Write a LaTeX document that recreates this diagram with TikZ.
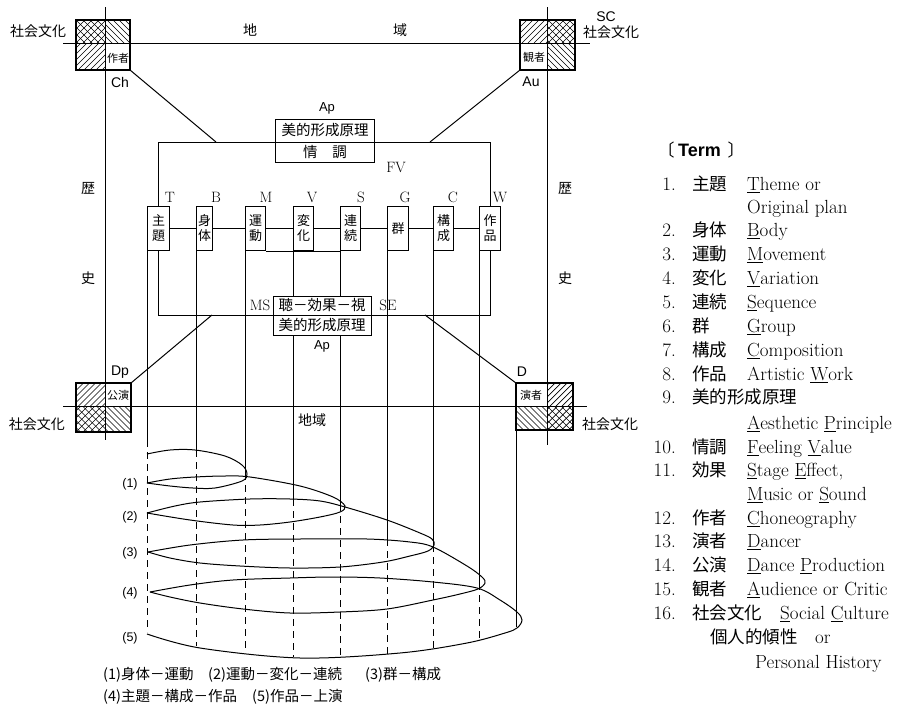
\documentclass[tikz,border=0pt]{standalone}
\usepackage{fontspec}
\newfontfamily\jpf{Noto Sans CJK JP}
\newfontfamily\hvf{Liberation Sans}
\tikzset{
  ln/.style={line width=1pt},
  dashln/.style={line width=1pt, dash pattern=on 7pt off 5pt},
  hatchln/.style={line width=0.7pt},
  sq/.style={line width=1.3pt},
  tbox/.style={draw, line width=1pt, fill=white, minimum height=44pt, inner sep=0pt, align=center, anchor=north west, font=\jpf\fontsize{13}{15}\selectfont},
  abox/.style={draw, line width=1pt, fill=white, minimum width=99pt, inner sep=0pt, font=\jpf\fontsize{14.5}{14.5}\selectfont},
  jplab/.style={inner sep=0pt, font=\jpf\fontsize{14}{14}\selectfont},
  smjp/.style={inner sep=0pt, font=\jpf\fontsize{11}{11}\selectfont},
  serl/.style={inner sep=0pt, font=\fontsize{15}{15}\selectfont},
  sanl/.style={inner sep=0pt, font=\hvf\fontsize{14}{14}\selectfont},
  numl/.style={inner sep=0pt, font=\hvf\fontsize{12.5}{12.5}\selectfont},
  legl/.style={inner sep=0pt, anchor=west, font=\jpf\fontsize{14.5}{14.5}\selectfont},
  termn/.style={anchor=base east, inner sep=0pt, font=\fontsize{19}{19}\selectfont},
  termj/.style={anchor=base west, inner sep=0pt, font=\jpf\fontsize{17.5}{17.5}\selectfont},
  terme/.style={anchor=base west, inner sep=0pt, font=\fontsize{19}{19}\selectfont}
}
\newcommand\hatchR[4]{\begin{scope}\clip (#1,#2) rectangle (#3,#4);
  \foreach \a in {-40,-34,...,40}{\draw[hatchln] ({#1+\a},#4) -- ++(60,-60);}\end{scope}}
\newcommand\hatchL[4]{\begin{scope}\clip (#1,#2) rectangle (#3,#4);
  \foreach \a in {-40,-34,...,40}{\draw[hatchln] ({#1+\a},#2) -- ++(60,60);}\end{scope}}
\newcommand\hatchX[4]{\begin{scope}\clip (#1,#2) rectangle (#3,#4);
  \foreach \a in {-42,-35,...,42}{\draw[hatchln] ({#1+\a},#4) -- ++(60,-60);
  \draw[hatchln] ({#1+\a},#2) -- ++(60,60);}\end{scope}}
\begin{document}
\begin{tikzpicture}[x=1pt,y=-1pt]
\useasboundingbox (0,0) rectangle (922,712);

% ---- corner squares
\hatchX{76}{20}{105}{43}\hatchL{105}{20}{130}{43}\hatchR{76}{43}{105}{70}
\draw[sq] (76,20) rectangle (130,70);
\hatchX{548}{20}{575}{43}\hatchR{520}{20}{548}{43}\hatchL{548}{43}{575}{70}
\draw[sq] (520,20) rectangle (575,70);
\hatchR{76}{383}{105}{406.5}\hatchX{76}{406.5}{105}{432}\hatchL{105}{406.5}{131}{432}
\draw[sq] (76,383) rectangle (131,432);
\hatchR{547.5}{383}{573}{406.5}\hatchL{516}{406.5}{547.5}{430}\hatchX{547.5}{406.5}{573}{430}
\draw[sq] (516,383) rectangle (573,430);

% ---- frame lines
\coordinate (ltop) at (105,7);   \coordinate (lbot) at (105,440);
\coordinate (rtop) at (547.5,7); \coordinate (rbot) at (547.5,445);
\coordinate (htl) at (63,43);    \coordinate (htr) at (590,43);
\coordinate (hbl) at (63,406.5); \coordinate (hbr) at (587,406.5);
\coordinate (brl) at (516,430);  \coordinate (brlb) at (516,627);
\draw[ln] (ltop) -- (lbot);
\draw[ln] (rtop) -- (rbot);
\draw[ln] (htl) -- (htr);
\draw[ln] (hbl) -- (hbr);
\draw[ln] (brl) -- (brlb);

% ---- term boxes
\node[tbox, minimum width=22pt] (t1) at (147,206) {主\\題};
\node[tbox, minimum width=16pt] (t2) at (196,206) {身\\体};
\node[tbox, minimum width=20pt] (t3) at (245,206) {運\\動};
\node[tbox, minimum width=20pt] (t4) at (293,206) {変\\化};
\node[tbox, minimum width=20pt] (t5) at (340,206) {連\\続};
\node[tbox, minimum width=21pt] (t6) at (387,206) {群};
\node[tbox, minimum width=20pt] (t7) at (433,206) {構\\成};
\node[tbox, minimum width=21pt] (t8) at (479,206) {作\\品};

\draw[ln] (t1.east) -- (t2.west);
\draw[ln] (t2.east) -- (t3.west);
\draw[ln] (t3.east) -- (t4.west);
\draw[ln] (t4.east) -- (t5.west);
\draw[ln] (t5.east) -- (t6.west);
\draw[ln] (t6.east) -- (t7.west);
\draw[ln] (t7.east) -- (t8.west);
\draw[ln] (t3.south east) -- (t5.south west);

% ---- frames round the boxes
\coordinate (ftop) at (0,142);
\coordinate (fbot) at (0,315);
\draw[ln] (t1.north) -- (t1.north |- ftop) -| (t8.north);
\draw[ln] (t1.south) -- (t1.south |- fbot) -| (t8.south);

% ---- diagonals
\coordinate (c1) at (130,70);  \coordinate (f1) at (216,142);
\coordinate (c2) at (520,70);  \coordinate (f2) at (430,142);
\coordinate (c3) at (131,383); \coordinate (f3) at (212,315);
\coordinate (c4) at (516,383); \coordinate (f4) at (425,315);
\draw[ln] (c1) -- (f1);
\draw[ln] (c2) -- (f2);
\draw[ln] (c3) -- (f3);
\draw[ln] (c4) -- (f4);

% ---- verticals from the boxes, solid then dashed
\foreach \n/\ys/\ye in {t1/440/632, t2/450/646, t3/473/653, t4/499/657, t5/504/657, t6/539/655, t7/545/649, t8/583/640}{
  \draw[ln] (\n.south west) -- (\n.south west |- 0,\ys);
  \draw[dashln] (\n.south west |- 0,\ys) -- (\n.south west |- 0,\ye);
}

% ---- aesthetic principle boxes
\node[abox, minimum height=23pt] (ap1) at (325,130.5) {美的形成原理};
\node[abox, minimum height=20pt] (ap2) at (325,152) {情\hspace{15pt}調};
\node[abox, minimum width=98pt, minimum height=19pt] (es1) at (322,305.5) {聴－効果－視};
\node[abox, minimum width=98pt, minimum height=20pt] (es2) at (322,325) {美的形成原理};

% ---- loops
\draw[ln] plot[smooth, tension=0.55] coordinates {(147,454) (170,450) (195,450) (225,456) (242,465) (247,474) (242,481) (215,488) (193,488) (170,486) (147,483)};
\draw[ln] plot[smooth, tension=0.55] coordinates {(147,483) (170,479) (195,477) (225,476) (250,477) (300,486) (333,497) (345,506) (340,512) (320,517) (290,522) (260,525) (233,525) (190,520) (147,513)};
\draw[ln] plot[smooth, tension=0.55] coordinates {(147,513) (175,506) (200,502) (250,499) (290,499) (320,501) (345,507) (387,520) (420,533) (432,539) (434,545) (428,551) (410,556) (383,562) (340,567) (290,568) (240,566) (200,563) (170,558) (148,552)};
\draw[ln] plot[smooth, tension=0.55] coordinates {(148,552) (190,545) (243,540) (300,539) (367,539) (410,542) (433,547) (467,566) (482,577) (485,583) (478,589) (460,594) (433,600) (387,609) (340,612) (290,613) (243,609) (200,603) (170,597) (150,592)};
\draw[ln] plot[smooth, tension=0.55] coordinates {(150,592) (190,585) (233,580) (290,578) (333,577) (380,578) (433,582) (477,588) (500,600) (517,612) (522,620) (517,628) (505,633) (467,643) (400,653) (300,658) (200,648) (147,634)};

% ---- loop numbers
\node[numl] (n1) at (130,484) {(1)};
\node[numl] (n2) at (130,517) {(2)};
\node[numl] (n3) at (130,553) {(3)};
\node[numl] (n4) at (130,593) {(4)};
\node[numl] (n5) at (130,638) {(5)};

% ---- labels of the boxes
\node[serl] (lT) at (170,197) {T};
\node[serl] (lB) at (216,197) {B};
\node[serl] (lM) at (266,197) {M};
\node[serl] (lV) at (312,197) {V};
\node[serl] (lS) at (361,197) {S};
\node[serl] (lG) at (405,197) {G};
\node[serl] (lC) at (453,197) {C};
\node[serl] (lW) at (500,197) {W};
\node[serl] (lFV) at (396,167) {FV};
\node[serl] (lMS) at (260,305) {MS};
\node[serl] (lSE) at (388,305) {SE};
\node[sanl, font=\hvf\fontsize{13}{13}\selectfont] (lAp1) at (327,108) {Ap};
\node[sanl, font=\hvf\fontsize{13}{13}\selectfont] (lAp2) at (322,346) {Ap};

% ---- corner labels
\node[sanl] (lCh) at (120,82) {Ch};
\node[sanl] (lAu) at (531,82) {Au};
\node[sanl] (lSC) at (606,17) {SC};
\node[sanl] (lDp) at (120,372) {Dp};
\node[sanl] (lD) at (522,372) {D};
\node[smjp] (sq1) at (118,58) {作者};
\node[smjp] (sq2) at (534,57) {観者};
\node[smjp] (sq3) at (118,395) {公演};
\node[smjp] (sq4) at (531,395) {演者};
\node[jplab] (sc1) at (38,31) {社会文化};
\node[jplab] (sc2) at (611,32) {社会文化};
\node[jplab] (sc3) at (37,424) {社会文化};
\node[jplab] (sc4) at (610,424) {社会文化};
\node[jplab] (ch1) at (250,30) {地};
\node[jplab] (ch2) at (400,30) {域};
\node[jplab] (ch3) at (312,420) {地域};
\node[jplab] (rk1) at (88,189) {歴};
\node[jplab] (rk2) at (88,278) {史};
\node[jplab] (rk3) at (565,189) {歴};
\node[jplab] (rk4) at (565,278) {史};

% ---- legend
\node[legl] (lg1) at (103,675) {(1)身体－運動};
\node[legl] (lg2) at (208,675) {(2)運動－変化－連続};
\node[legl] (lg3) at (365,675) {(3)群－構成};
\node[legl] (lg4) at (103,697) {(4)主題－構成－作品};
\node[legl] (lg5) at (252,697) {(5)作品－上演};

% ---- term list
\node[inner sep=0pt, font=\jpf\fontsize{17}{17}\selectfont] (hb1) at (666,150) {〔};
\node[inner sep=0pt, anchor=west, font=\hvf\bfseries\fontsize{18}{18}\selectfont] (hb2) at (678,150) {Term};
\node[inner sep=0pt, font=\jpf\fontsize{17}{17}\selectfont] (hb3) at (736,150) {〕};

\node[termn] (k1) at (676,190.5) {1.};
\node[termj] (j1) at (692,190.5) {主題};
\node[terme] (e1) at (747,190.5) {\underline{T}heme or};
\node[terme] (e1b) at (747,213.5) {Original plan};
\node[termn] (k2) at (676,236.5) {2.};
\node[termj] (j2) at (692,236.5) {身体};
\node[terme] (e2) at (747,236.5) {\underline{B}ody};
\node[termn] (k3) at (676,260.5) {3.};
\node[termj] (j3) at (692,260.5) {運動};
\node[terme] (e3) at (747,260.5) {\underline{M}ovement};
\node[termn] (k4) at (676,284.5) {4.};
\node[termj] (j4) at (692,284.5) {変化};
\node[terme] (e4) at (747,284.5) {\underline{V}ariation};
\node[termn] (k5) at (676,308.5) {5.};
\node[termj] (j5) at (692,308.5) {連続};
\node[terme] (e5) at (747,308.5) {\underline{S}equence};
\node[termn] (k6) at (676,332.5) {6.};
\node[termj] (j6) at (692,332.5) {群};
\node[terme] (e6) at (747,332.5) {\underline{G}roup};
\node[termn] (k7) at (676,356.5) {7.};
\node[termj] (j7) at (692,356.5) {構成};
\node[terme] (e7) at (747,356.5) {\underline{C}omposition};
\node[termn] (k8) at (676,380.5) {8.};
\node[termj] (j8) at (692,380.5) {作品};
\node[terme] (e8) at (747,380.5) {Artistic \underline{W}ork};
\node[termn] (k9) at (676,403.5) {9.};
\node[termj] (j9) at (692,403.5) {美的形成原理};
\node[terme] (e9) at (747,429.5) {\underline{A}esthetic \underline{P}rinciple};
\node[termn] (k10) at (676,453.5) {10.};
\node[termj] (j10) at (692,453.5) {情調};
\node[terme] (e10) at (747,453.5) {\underline{F}eeling \underline{V}alue};
\node[termn] (k11) at (676,476.5) {11.};
\node[termj] (j11) at (692,476.5) {効果};
\node[terme] (e11) at (747,476.5) {\underline{S}tage \underline{E}ffect,};
\node[terme] (e11b) at (747,500.5) {\underline{M}usic or \underline{S}ound};
\node[termn] (k12) at (676,524.5) {12.};
\node[termj] (j12) at (692,524.5) {作者};
\node[terme] (e12) at (747,524.5) {\underline{C}honeography};
\node[termn] (k13) at (676,547.5) {13.};
\node[termj] (j13) at (692,547.5) {演者};
\node[terme] (e13) at (747,547.5) {\underline{D}ancer};
\node[termn] (k14) at (676,571.5) {14.};
\node[termj] (j14) at (692,571.5) {公演};
\node[terme] (e14) at (747,571.5) {\underline{D}ance \underline{P}roduction};
\node[termn] (k15) at (676,595.5) {15.};
\node[termj] (j15) at (692,595.5) {観者};
\node[terme] (e15) at (747,595.5) {\underline{A}udience or Critic};
\node[termn] (k16) at (676,619.5) {16.};
\node[termj] (j16) at (692,619.5) {社会文化};
\node[terme] (e16) at (780,619.5) {\underline{S}ocial \underline{C}ulture};
\node[termj] (j16b) at (710,643.5) {個人的傾性};
\node[terme] (e16b) at (815,643.5) {or};
\node[terme] (e16c) at (755,668.5) {Personal History};
\end{tikzpicture}
\end{document}
